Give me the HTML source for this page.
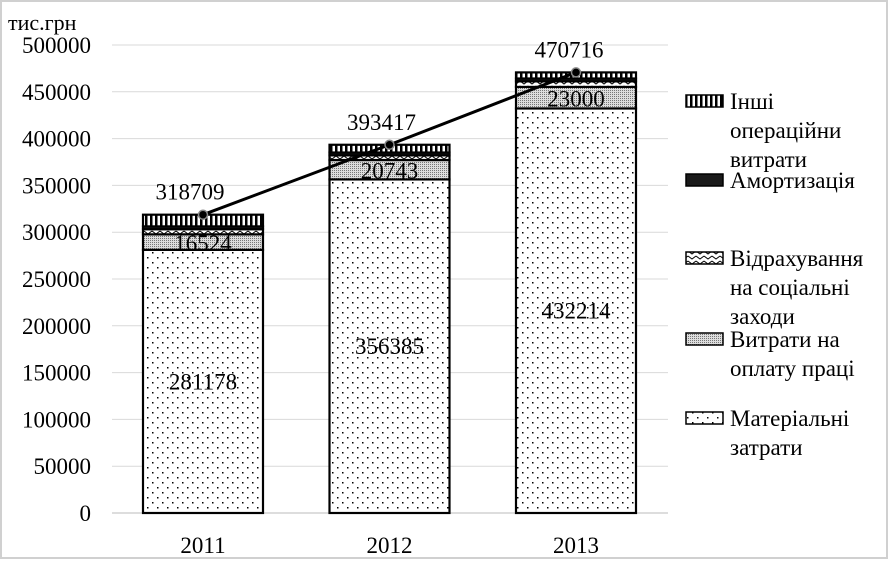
<!DOCTYPE html>
<html><head><meta charset="utf-8"><style>
body{margin:0;background:#fff}
svg text{font-family:"Liberation Serif",serif;fill:#000}
</style></head><body>
<svg id="c" width="889" height="559" xmlns="http://www.w3.org/2000/svg">
<defs>
<pattern id="pDots" width="10" height="10" patternUnits="userSpaceOnUse"><rect width="10" height="10" fill="#fff"/><rect x="2" y="2" width="1.5" height="1.5" fill="#000"/><rect x="7" y="7" width="1.5" height="1.5" fill="#000"/></pattern>
<pattern id="pFine" width="2" height="2" patternUnits="userSpaceOnUse"><rect width="2" height="2" fill="#ddd"/><rect width="1" height="1" fill="#777"/></pattern>
<pattern id="pZig" width="8" height="5" patternUnits="userSpaceOnUse"><rect width="8" height="5" fill="#fff"/><path d="M0 1 L4 4 L8 1" stroke="#000" fill="none" stroke-width="1"/></pattern>
<pattern id="pVert" width="5" height="10" patternUnits="userSpaceOnUse"><rect width="5" height="10" fill="#fff"/><rect width="2.5" height="10" fill="#000"/></pattern>
</defs>
<rect x="1" y="1" width="886" height="557" fill="#fff" stroke="#d0d0d0" stroke-width="2"/>
<g id="grid"></g><g id="bars"></g><g id="line"></g><g id="legend"></g>
<text x="8" y="30" font-size="22">тис.грн</text>
</svg>
<script>
const years=['2011','2012','2013'];
const material=[281178,356385,432214];
const labor=[16524,20743,23000];
const social=[5500,5000,6000];
const amort=[3000,3000,3000];
const other=[12507,8289,6502];
const totals=[318709,393417,470716];
const yTicks=[0,50000,100000,150000,200000,250000,300000,350000,400000,450000,500000];
const NS='http://www.w3.org/2000/svg';
const y=v=>513-v*468/500000;
const xc=i=>203+i*186.5;
function mk(tag,attrs,parent,txt){const e=document.createElementNS(NS,tag);for(const k in attrs)e.setAttribute(k,attrs[k]);if(txt!==undefined)e.textContent=txt;document.getElementById(parent).appendChild(e);return e;}
yTicks.forEach(t=>{
 const l=mk('line',{x1:112,x2:668,y1:y(t),y2:y(t),stroke:t===0?'#bbb':'#d9d9d9','stroke-width':1},'grid');
 
 
 const tx=mk('text',{x:91,y:y(t)+8,'font-size':23,'text-anchor':'end'},'grid',String(t));
 
 
});
const series=[[material,'url(#pDots)','material'],[labor,'url(#pFine)','labor'],[social,'url(#pZig)','social'],[amort,'#1a1a1a','amort'],[other,'url(#pVert)','other']];
years.forEach((yr,i)=>{
 let base=0;
 series.forEach(([arr,fill,nm])=>{
  const r=mk('rect',{x:xc(i)-60,width:120,y:y(base+arr[i]),height:y(base)-y(base+arr[i]),fill:fill,stroke:'#000','stroke-width':2.2},'bars');
  
  
  base+=arr[i];
 });
 const t1=mk('text',{x:xc(i),y:y(material[i]/2)+8,'font-size':23,'text-anchor':'middle'},'bars',String(material[i]));
 
 
 const t2=mk('text',{x:xc(i),y:y(material[i]+labor[i]/2)+9,'font-size':23,'text-anchor':'middle'},'bars',String(labor[i]));
 
 
 const xl=mk('text',{x:xc(i),y:553,'font-size':23,'text-anchor':'middle'},'bars',yr);
 
 
});
const pts=totals.map((v,i)=>xc(i)+','+y(v)).join(' ');
const pl=mk('polyline',{points:pts,fill:'none',stroke:'#000','stroke-width':3},'line');


const lblDx=[-13,-8,-7];
totals.forEach((v,i)=>{
 const c=mk('circle',{cx:xc(i),cy:y(v),r:4.5,fill:'#000',stroke:'#888','stroke-width':1.5},'line');
 
 
 const t=mk('text',{x:xc(i)+lblDx[i],y:y(v)-15,'font-size':23,'text-anchor':'middle'},'line',String(v));
 
 
});
const leg=[['url(#pVert)',['Інші','операційни','витрати'],101],['#1a1a1a',['Амортизація'],180],['url(#pZig)',['Відрахування','на соціальні','заходи'],258],['url(#pFine)',['Витрати на','оплату праці'],339],['url(#pDots)',['Матеріальні','затрати'],418]];
leg.forEach(([f,lines,yy])=>{
 const r=mk('rect',{x:686,y:yy-6,width:37,height:12,fill:f,stroke:'#000','stroke-width':1.5},'legend');
 
 
 lines.forEach((s,k)=>{
  const t=mk('text',{x:730,y:yy+8+k*29,'font-size':23},'legend',s);
  
  
 });
});
</script>
</body></html>
